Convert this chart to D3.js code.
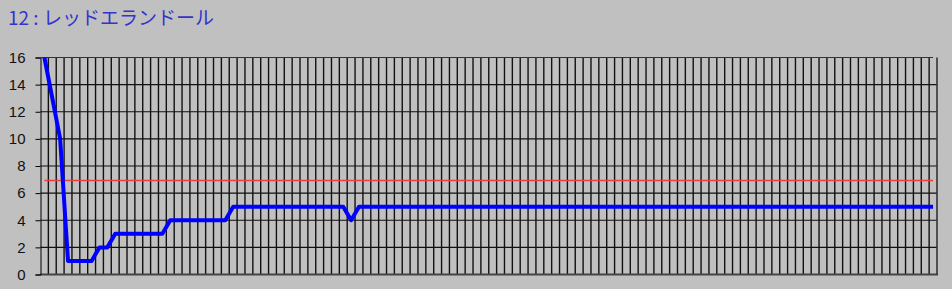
<!DOCTYPE html>
<html>
<head>
<meta charset="utf-8">
<script src="https://cdn.jsdelivr.net/npm/d3@7"></script>
<style>
    body { margin: 0; background: #c0c0c0; }
    svg { display: block; }
</style>
</head>
<body>
<div id="app"></div>
<script>
"use strict";

const title = "12 : レッドエランドール";
const yTicks = [0, 2, 4, 6, 8, 10, 12, 14, 16];
const levels = [
    16, 13, 10, 1, 1, 1, 1, 2, 2, 3,
    3, 3, 3, 3, 3, 3, 4, 4, 4, 4,
    4, 4, 4, 4, 5, 5, 5, 5, 5, 5,
    5, 5, 5, 5, 5, 5, 5, 5, 5, 4,
    5, 5, 5, 5, 5, 5, 5, 5, 5, 5,
    5, 5, 5, 5, 5, 5, 5, 5, 5, 5,
    5, 5, 5, 5, 5, 5, 5, 5, 5, 5,
    5, 5, 5, 5, 5, 5, 5, 5, 5, 5,
    5, 5, 5, 5, 5, 5, 5, 5, 5, 5,
    5, 5, 5, 5, 5, 5, 5, 5, 5, 5,
    5, 5, 5, 5, 5, 5, 5, 5, 5, 5,
    5, 5, 5, 5
];
const categories = levels.map((_, i) => i + 1);
const targetLevel = 7;
const upperLevel = 16;

function drawChart() {
    const width = 952, height = 289;
    const left = 40.5, right = 937, top = 57.5, bottom = 274.5;

    const svg = d3.select("#app").append("svg")
        .attr("width", width)
        .attr("height", height);

    svg.append("rect")
        .attr("width", width)
        .attr("height", height)
        .attr("fill", "#c0c0c0");

    svg.append("text")
        .attr("x", 8)
        .attr("y", 25)
        .attr("fill", "#3434cc")
        .style("font-family", "'Noto Sans CJK JP', sans-serif")
        .style("font-size", "19px")
        .text(title);

    const x = d3.scaleBand().domain(categories).range([left, right]);
    const y = d3.scaleLinear().domain([0, 16]).range([bottom, top]);

    // vertical grid: one line per category boundary
    svg.append("g")
        .selectAll("line")
        .data(categories.slice(1))
        .enter()
        .append("line")
        .attr("x1", d => x(d))
        .attr("x2", d => x(d))
        .attr("y1", top)
        .attr("y2", bottom)
        .attr("stroke", "#111")
        .attr("stroke-width", 1.4);

    // horizontal grid
    svg.append("g")
        .selectAll("line")
        .data(yTicks.filter(d => d > 0 && d < 16))
        .enter()
        .append("line")
        .attr("x1", left)
        .attr("x2", right)
        .attr("y1", d => y(d))
        .attr("y2", d => y(d))
        .attr("stroke", "#111")
        .attr("stroke-width", 1.2);

    // frame
    svg.append("line")
        .attr("x1", left).attr("x2", right + 1)
        .attr("y1", bottom).attr("y2", bottom)
        .attr("stroke", "#444").attr("stroke-width", 2);
    svg.append("line")
        .attr("x1", right).attr("x2", right)
        .attr("y1", top).attr("y2", bottom)
        .attr("stroke", "#333").attr("stroke-width", 1.6);

    const yAxis = svg.append("g")
        .attr("transform", `translate(${left},0)`)
        .call(d3.axisLeft(y).tickValues(yTicks).tickSize(5).tickPadding(10).tickFormat(d3.format("d")));
    yAxis.select(".domain").attr("stroke", "#000");
    yAxis.selectAll(".tick line").attr("stroke", "#000");
    yAxis.selectAll("text")
        .attr("fill", "#111")
        .style("font-family", "'Liberation Sans Narrow', 'Arial Narrow', sans-serif")
        .style("font-size", "15px");

    const first = categories[0], last = categories[categories.length - 1];
    const cx = d => x(d) + x.bandwidth() / 2;

    // upper limit line
    svg.append("line")
        .attr("x1", left)
        .attr("x2", cx(last))
        .attr("y1", y(upperLevel))
        .attr("y2", y(upperLevel))
        .attr("stroke", "#1a1aff")
        .attr("stroke-width", 1.2);

    // target line, snapped to a pixel row so it stays crisp
    const ty = Math.round(y(targetLevel)) + 0.5;
    svg.append("line")
        .attr("x1", cx(first))
        .attr("x2", cx(last))
        .attr("y1", ty)
        .attr("y2", ty)
        .attr("stroke", "#f03c3c")
        .attr("stroke-width", 1.5);

    const line = d3.line()
        .x((d, i) => cx(categories[i]))
        .y(d => y(d));

    svg.append("path")
        .datum(levels)
        .attr("d", line)
        .attr("fill", "none")
        .attr("stroke", "#0000ff")
        .attr("stroke-width", 4)
        .attr("stroke-linejoin", "round");
}

drawChart();
</script>
</body>
</html>
